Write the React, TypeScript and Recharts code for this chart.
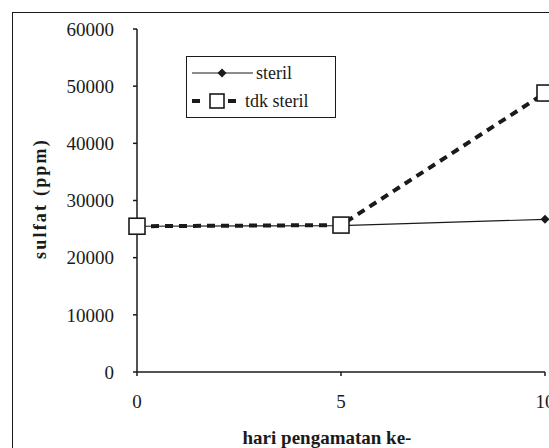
import { LineChart, Line, XAxis, YAxis, Label } from 'recharts'

// hari pengamatan (days) and sulfat readings (ppm)
const days = [0, 5, 10]
const steril = [25500, 25600, 26700]
const tdkSteril = [25500, 25700, 48800]
const yTicks = [0, 10000, 20000, 30000, 40000, 50000, 60000]
const xTicks = [0, 5, 10]

const data = days.map((d, i) => ({ day: d, steril: steril[i], tdk: tdkSteril[i] }))

const INK = '#1a1a1a'
const FONT = '"Times New Roman", "Liberation Serif", "DejaVu Serif", serif'

const Diamond = (props: any) => {
  const { cx, cy } = props
  if (cx == null || cy == null) return null
  const r = 4.5
  return <path d={`M${cx},${cy - r}L${cx + r},${cy}L${cx},${cy + r}L${cx - r},${cy}Z`} fill={INK} />
}

const Square = (props: any) => {
  const { cx, cy } = props
  if (cx == null || cy == null) return null
  return <rect x={cx - 8} y={cy - 8} width={16} height={16} fill="#fff" stroke={INK} strokeWidth={1.6} />
}

const YTitle = (props: any) => {
  const vb = props.viewBox || { y: 29, height: 343 }
  const cy = vb.y + vb.height / 2 - 2
  return (
    <text x={40} y={cy} transform={`rotate(-90 40 ${cy})`} textAnchor="middle" dominantBaseline="central"
      fontFamily={FONT} fontWeight="bold" fontSize={18} letterSpacing={2.2} fill={INK}>
      sulfat (ppm)
    </text>
  )
}

const XTitle = (props: any) => {
  const vb = props.viewBox || { x: 137, width: 408 }
  const cx = vb.x + vb.width / 2 - 14
  return (
    <text x={cx} y={437} textAnchor="middle" dominantBaseline="central"
      fontFamily={FONT} fontWeight="bold" fontSize={19} fill={INK}>
      hari pengamatan ke-
    </text>
  )
}

const LegendBox = () => (
  <div style={{ border: `1.5px solid ${INK}`, width: 150, height: 62, boxSizing: 'border-box', background: '#fff', fontFamily: FONT, fontSize: 18, color: INK }}>
    <div style={{ display: 'flex', alignItems: 'center', height: 28, marginTop: 2 }}>
      <svg width={66} height={14}>
        <line x1={5} y1={7} x2={66} y2={7} stroke={INK} strokeWidth={1.2} />
        <path d="M35,2.5L39.5,7L35,11.5L30.5,7Z" fill={INK} />
      </svg>
      <span style={{ marginLeft: 3 }}>steril</span>
    </div>
    <div style={{ display: 'flex', alignItems: 'center', height: 28 }}>
      <svg width={56} height={18}>
        <line x1={5} y1={9} x2={56} y2={9} stroke={INK} strokeWidth={4} strokeDasharray="8 10" />
        <rect x={23} y={2} width={14} height={14} fill="#fff" stroke={INK} strokeWidth={1.6} />
      </svg>
      <span style={{ marginLeft: 2 }}>tdk steril</span>
    </div>
  </div>
)

export default function App() {
  return (
    <div style={{ position: 'fixed', left: 0, top: 0, width: 549, height: 448, overflow: 'hidden', background: '#fff', fontFamily: FONT }}>
      <div style={{ position: 'absolute', left: 12, top: 12, width: 620, height: 520, border: `1.5px solid ${INK}` }} />
      <div style={{ position: 'absolute', left: 0, top: 0 }}>
        <LineChart width={620} height={448} data={data} margin={{ top: 29, right: 75, left: 0, bottom: 46 }} style={{ fontFamily: FONT }}>
          <XAxis dataKey="day" type="number" domain={[0, 10]} ticks={xTicks} height={30}
            axisLine={{ stroke: INK, strokeWidth: 1.5 }} tickLine={{ stroke: INK, strokeWidth: 1.5 }}
            tickSize={4} tickMargin={19} interval={0}
            tick={{ fill: INK, fontSize: 19, fontFamily: FONT }}>
            <Label content={<XTitle />} />
          </XAxis>
          <YAxis type="number" domain={[0, 60000]} ticks={yTicks} width={137} interval={0}
            axisLine={{ stroke: INK, strokeWidth: 1.5 }} tickLine={{ stroke: INK, strokeWidth: 1.5 }}
            tickSize={4} tickMargin={19}
            tick={{ fill: INK, fontSize: 19, fontFamily: FONT }}>
            <Label content={<YTitle />} />
          </YAxis>
          <Line dataKey="steril" name="steril" stroke={INK} strokeWidth={1.2} dot={<Diamond />} activeDot={false} isAnimationActive={false} />
          <Line dataKey="tdk" name="tdk steril" stroke={INK} strokeWidth={4} strokeDasharray="8 6" dot={<Square />} activeDot={false} isAnimationActive={false} />
        </LineChart>
      </div>
      <div style={{ position: 'absolute', left: 186, top: 56 }}>
        <LegendBox />
      </div>
    </div>
  )
}
